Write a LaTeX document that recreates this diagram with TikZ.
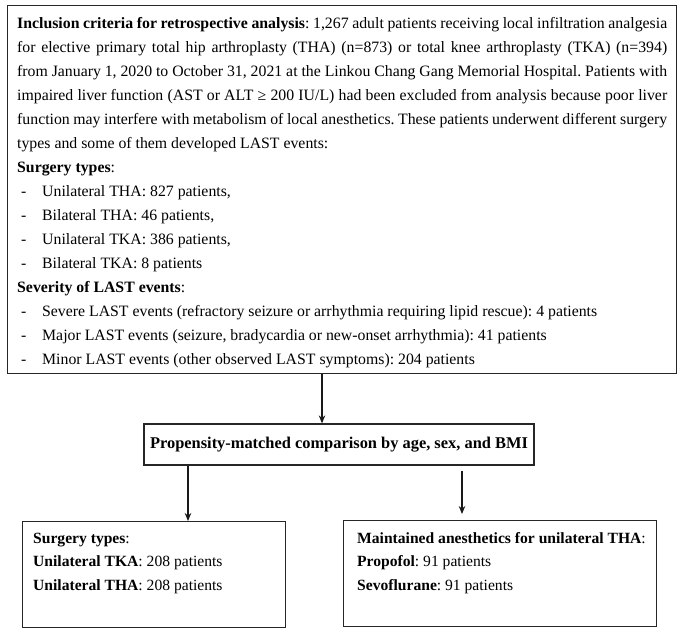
\documentclass[tikz,border=0pt]{standalone}
\usepackage{fontspec}
\setmainfont{Liberation Serif}
\usetikzlibrary{arrows.meta}
\frenchspacing
\newcommand\myfs{\fontsize{15.8pt}{24pt}\selectfont}
\newcommand\myfsm{\fontsize{16.4pt}{20pt}\selectfont}
\newcommand\myfsb{\fontsize{15.6pt}{23.5pt}\selectfont}
\newcommand\dashitem{\par\hspace*{4pt}\makebox[21pt][l]{-}}
\begin{document}
\begin{tikzpicture}[x=1pt,y=-1pt,
  box/.style={draw=black!85, line width=1.3pt, inner sep=0pt},
  arr/.style={line width=1.1pt, draw=black!90, -{Stealth[length=8pt,width=6.5pt]}},
  txt/.style={inner sep=0pt, anchor=base west}]
\useasboundingbox (0,0) rectangle (685,633);
% top box
\node[box, anchor=north west, minimum width=669pt, minimum height=368pt] (top) at (7,5) {};
\node[txt] (toptext) at (17,28) {\parbox[t]{650pt}{\myfs\frenchspacing\parindent=0pt\parskip=0pt
\textbf{Inclusion criteria for retrospective analysis}: 1,267 adult patients receiving local infiltration analgesia\linebreak
for elective primary total hip arthroplasty (THA) (n=873) or total knee arthroplasty (TKA) (n=394)\linebreak
from January 1, 2020 to October 31, 2021 at the Linkou Chang Gang Memorial Hospital. Patients with\linebreak
impaired liver function (AST or ALT ≥ 200 IU/L) had been excluded from analysis because poor liver\linebreak
function may interfere with metabolism of local anesthetics. These patients underwent different surgery\linebreak
types and some of them developed LAST events:\par
\textbf{Surgery types}:
\dashitem Unilateral THA: 827 patients,
\dashitem Bilateral THA: 46 patients,
\dashitem Unilateral TKA: 386 patients,
\dashitem Bilateral TKA: 8 patients\par
\textbf{Severity of LAST events}:
\dashitem Severe LAST events (refractory seizure or arrhythmia requiring lipid rescue): 4 patients
\dashitem Major LAST events (seizure, bradycardia or new-onset arrhythmia): 41 patients
\dashitem Minor LAST events (other observed LAST symptoms): 204 patients\par}};
% middle box
\node[box, minimum width=390pt, minimum height=41pt, font=\myfsm\bfseries] (mid) at (339,444.5) {Propensity-matched comparison by age, sex, and BMI};
% bottom boxes
\node[box, anchor=north west, minimum width=263pt, minimum height=106pt] (lbox) at (22,521) {};
\node[txt] (ltext) at (33,543) {\parbox[t]{245pt}{\myfsb\parindent=0pt
\textbf{Surgery types}:\\
\textbf{Unilateral TKA}: 208 patients\\
\textbf{Unilateral THA}: 208 patients}};
\node[box, anchor=north west, minimum width=313pt, minimum height=106pt] (rbox) at (343,520) {};
\node[txt] (rtext) at (357,543) {\parbox[t]{295pt}{\myfsb\parindent=0pt
\textbf{Maintained anesthetics for unilateral THA}:\\
\textbf{Propofol}: 91 patients\\
\textbf{Sevoflurane}: 91 patients}};
% connectors
\coordinate (a1) at (322,0);
\coordinate (a2) at (188,0);
\coordinate (a3) at (462,0);
\draw[arr] (top.south -| a1) -- (mid.north -| a1);
\draw[arr] (mid.south -| a2) -- (lbox.north -| a2);
\draw[arr, shorten <=5pt, shorten >=6pt] (mid.south -| a3) -- (rbox.north -| a3);
\end{tikzpicture}
\end{document}
